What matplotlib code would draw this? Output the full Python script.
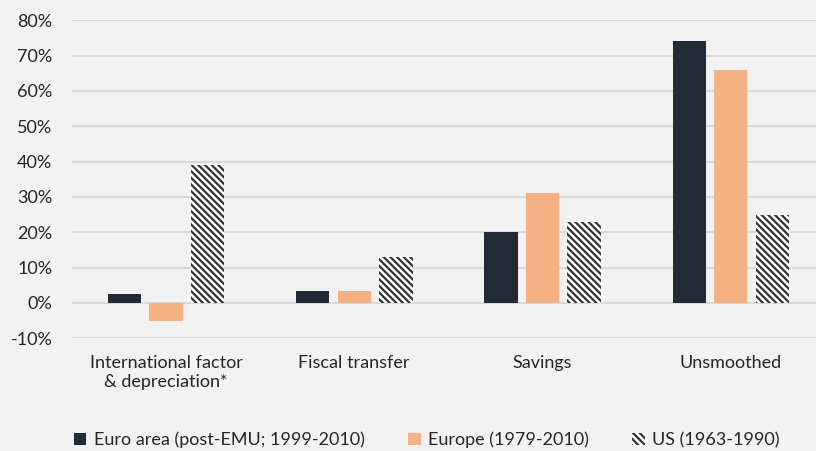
import matplotlib.pyplot as plt
import numpy as np

plt.rcParams['font.family'] = ['Lato', 'DejaVu Sans']
plt.rcParams['hatch.linewidth'] = 1.6

categories = ["International factor\n& depreciation*", "Fiscal transfer", "Savings", "Unsmoothed"]
euro_area = [2.5, 3.5, 20, 74]
europe = [-5, 3.5, 31, 66]
us = [39, 13, 23, 25]
series_names = ["Euro area (post-EMU; 1999-2010)", "Europe (1979-2010)", "US (1963-1990)"]

bg = "#f2f2f2"
fig = plt.figure(figsize=(8.16, 4.51), dpi=100, facecolor=bg)
ax = fig.add_axes([0.088, 0.25, 0.923, 0.705], facecolor=bg)

x = np.arange(len(categories))
w = 0.177
step = 0.221
ax.bar(x - step, euro_area, w, color="#222a35", label=series_names[0], zorder=3)
ax.bar(x, europe, w, color="#f4b183", label=series_names[1], zorder=3)
ax.bar(x + step, us, w, facecolor="white", edgecolor="#333333", hatch="\\\\\\\\\\",
       linewidth=0, label=series_names[2], zorder=3)

ax.set_ylim(-10, 80)
ax.set_yticks(np.arange(-10, 81, 10))
ax.set_yticklabels([f"{v}%" for v in range(-10, 81, 10)])
ax.set_xlim(-0.5, 3.5)
ax.set_xticks(x)
ax.set_xticklabels(categories)
ax.grid(axis="y", color="#d9d9d9", linewidth=1.5, zorder=0)
for s in ax.spines.values():
    s.set_visible(False)
ax.tick_params(length=0, labelsize=13, colors="#262626")
ax.tick_params(axis="y", pad=14)
ax.tick_params(axis="x", pad=12)

ax.legend(loc="upper center", bbox_to_anchor=(0.471, -0.243), ncol=3, frameon=False,
          fontsize=13, handlelength=0.7, handleheight=0.7, handletextpad=0.4,
          columnspacing=2.4, labelcolor="#262626")

fig.savefig("out.png", dpi=100, facecolor=bg)
